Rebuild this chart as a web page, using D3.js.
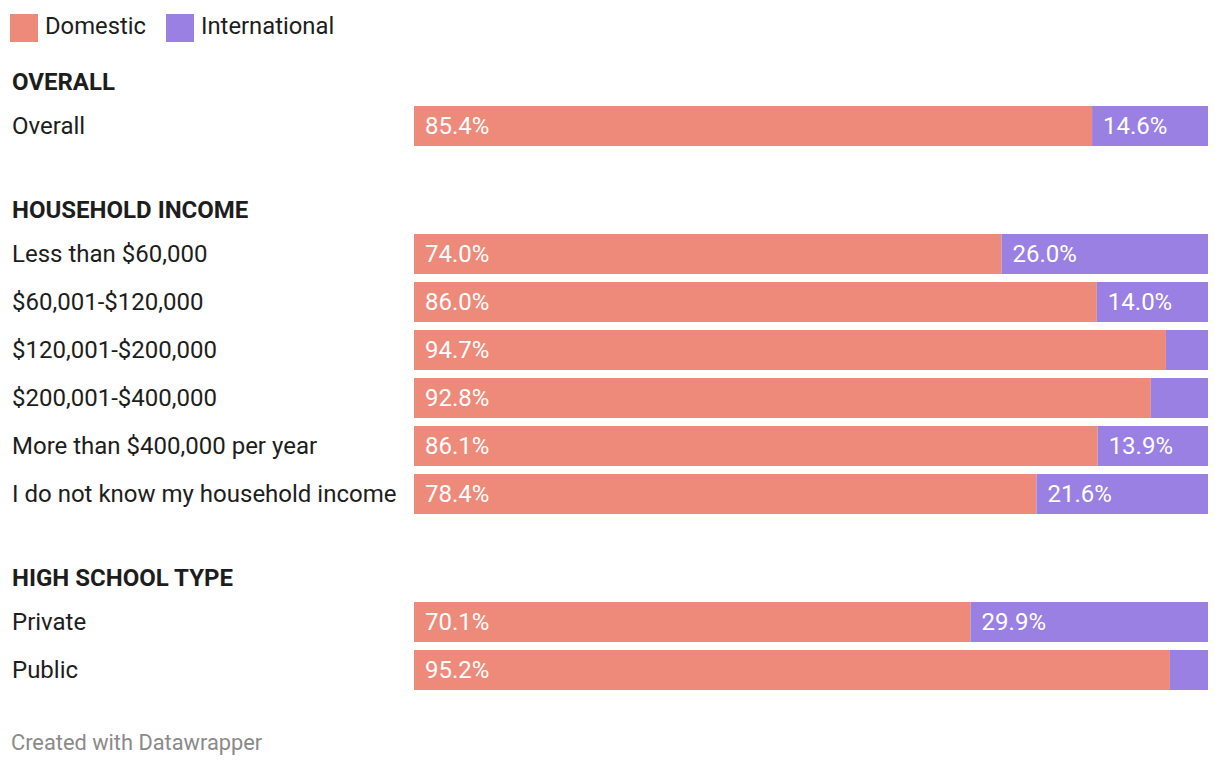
<!DOCTYPE html>
<html>
<head>
<meta charset="utf-8">
<script src="https://cdn.jsdelivr.net/npm/d3@7"></script>
<style>
body{margin:0;background:#fff;font-family:Roboto,"Noto Sans",sans-serif;}
</style>
</head>
<body>
<svg id="chart" width="1220" height="768"></svg>
<script>
const seriesNames = ["Domestic", "International"];
const groups = ["OVERALL", "HOUSEHOLD INCOME", "HIGH SCHOOL TYPE"];
const categories = [
  ["Overall"],
  ["Less than $60,000", "$60,001-$120,000", "$120,001-$200,000", "$200,001-$400,000", "More than $400,000 per year", "I do not know my household income"],
  ["Private", "Public"]
];
const domestic = [
  [85.4],
  [74.0, 86.0, 94.7, 92.8, 86.1, 78.4],
  [70.1, 95.2]
];
const international = [
  [14.6],
  [26.0, 14.0, 5.3, 7.2, 13.9, 21.6],
  [29.9, 4.8]
];
const colors = ["#ee8a7a", "#9a80e2"];

const svg = d3.select("#chart");
const x = d3.scaleLinear().domain([0, 100]).range([414, 1208]);
const barH = 40, rowStep = 48, headerGap = 44, groupGap = 84;

// legend
const leg = svg.append("g");
let lx = 10;
seriesNames.forEach((s, i) => {
  leg.append("rect").attr("x", lx).attr("y", 14).attr("width", 28).attr("height", 28).attr("fill", colors[i]);
  const t = leg.append("text").attr("x", lx + 35).attr("y", 26).attr("dy", "0.35em")
    .attr("font-size", 23.8).attr("fill", "#1d1d1d").text(s);
  lx += 35 + t.node().getComputedTextLength() + 20;
});

let y0 = 82;
groups.forEach((g, gi) => {
  svg.append("text").attr("x", 12).attr("y", y0).attr("dy", "0.35em")
    .attr("font-size", 24).attr("font-weight", 700).attr("fill", "#1d1d1d").text(g);
  categories[gi].forEach((c, i) => {
    const cy = y0 + headerGap + rowStep * i;
    const d = domestic[gi][i], n = international[gi][i];
    svg.append("text").attr("x", 12).attr("y", cy).attr("dy", "0.35em")
      .attr("font-size", 24).attr("fill", "#1d1d1d").text(c);
    svg.append("rect").attr("x", x(0)).attr("y", cy - barH / 2).attr("width", x(d) - x(0)).attr("height", barH).attr("fill", colors[0]);
    svg.append("rect").attr("x", x(d)).attr("y", cy - barH / 2).attr("width", x(d + n) - x(d)).attr("height", barH).attr("fill", colors[1]);
    svg.append("text").attr("x", x(0) + 11).attr("y", cy).attr("dy", "0.35em")
      .attr("font-size", 24).attr("fill", "#fff").text(d.toFixed(1) + "%");
    if (x(d + n) - x(d) > 80) {
      svg.append("text").attr("x", x(d) + 11).attr("y", cy).attr("dy", "0.35em")
        .attr("font-size", 24).attr("fill", "#fff").text(n.toFixed(1) + "%");
    }
  });
  y0 = y0 + headerGap + rowStep * (categories[gi].length - 1) + groupGap;
});

svg.append("text").attr("x", 11).attr("y", 742).attr("dy", "0.35em")
  .attr("font-size", 21.8).attr("fill", "#8a8a8a").text("Created with Datawrapper");
</script>
</body>
</html>
